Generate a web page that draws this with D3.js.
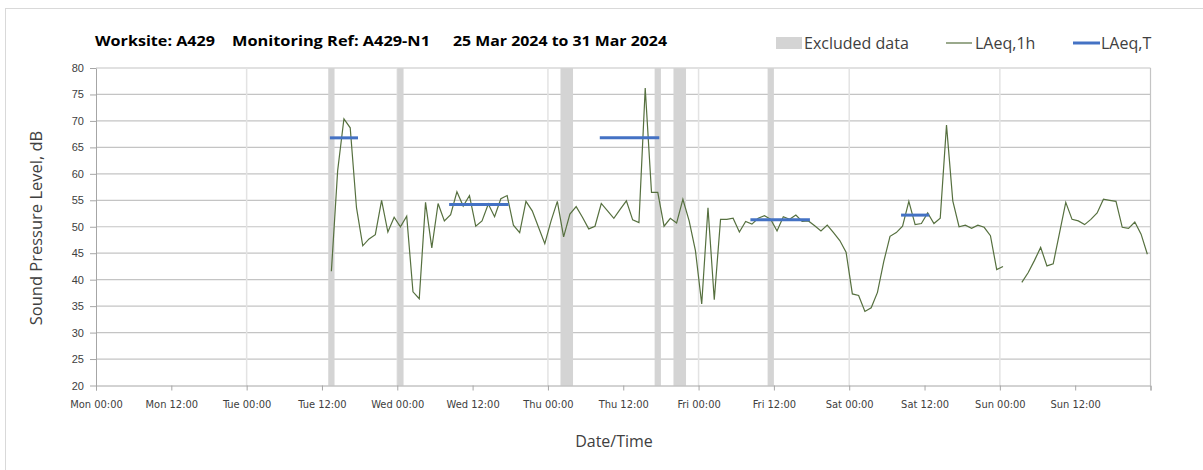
<!DOCTYPE html>
<html>
<head>
<meta charset="utf-8">
<script src="https://cdn.jsdelivr.net/npm/d3@7"></script>
<style>
  body { margin: 0; background: #fff; }
  svg { display: block; font-family: "Open Sans", sans-serif; }
</style>
</head>
<body>
<div id="chart"></div>
<script>
// LAeq,1h - hourly values, plotted at the middle of each hour (first = Tue 26 Mar 13:30)
const firstHour = "2024-03-26T13:30:00Z";
const laeq1h = [
  41.6, 60.6, 70.4, 68.7, 53.6, 46.4, 47.7, 48.5, 55.0, 49.0, 51.8, 50.0, 52.0, 37.7, 36.4, 54.6,
  46.0, 54.4, 51.1, 52.3, 56.6, 53.9, 55.9, 50.1, 51.1, 54.3, 51.9, 55.3, 55.9, 50.3, 48.9, 54.8,
  53.0, 49.9, 46.8, 51.1, 54.8,
  48.1, 52.4, 53.8, 51.8, 49.6, 50.1, 54.4, 53.0, 51.6, 53.3, 54.9, 51.3, 50.8, 76.2, 56.5, 56.5,
  50.1, 51.6, 50.7, 55.2, 51.1, 45.5, 35.4, 53.6, 36.2, 51.4, 51.4, 51.6, 49.0, 51.0, 50.5, 51.6,
  52.1, 51.4, 49.2,
  51.9, 51.4, 52.2, 51.0, 51.1, 50.2, 49.2, 50.3, 48.9, 47.4, 45.2, 37.3, 37.0, 34.0, 34.7, 37.6,
  43.4, 48.2, 48.9, 50.1, 54.8, 50.4, 50.6, 52.6, 50.6, 51.6, 69.2, 54.9, 50.0, 50.3, 49.7, 50.3,
  49.9, 48.3, 41.9, 42.5, null, null,
  39.5, 41.3, 43.6, 46.1, 42.6, 43.0, 48.8, 54.6, 51.4, 51.1, 50.4, 51.4, 52.6, 55.2, 55.0, 54.8,
  49.9, 49.7, 50.9, 48.6, 44.8
];

// LAeq,T - period levels
const laeqTStart = ["2024-03-26T13:30:00Z", "2024-03-27T08:30:00Z", "2024-03-28T08:30:00Z", "2024-03-29T08:30:00Z", "2024-03-30T08:30:00Z"];
const laeqTEnd   = ["2024-03-26T17:30:00Z", "2024-03-27T17:30:00Z", "2024-03-28T17:30:00Z", "2024-03-29T17:30:00Z", "2024-03-30T12:30:00Z"];
const laeqTValue = [66.8, 54.2, 66.8, 51.3, 52.2];

// Excluded data periods
const exclStart = ["2024-03-26T13:00:00Z", "2024-03-27T00:00:00Z", "2024-03-28T02:00:00Z", "2024-03-28T17:00:00Z", "2024-03-28T20:00:00Z", "2024-03-29T11:00:00Z"];
const exclEnd   = ["2024-03-26T14:00:00Z", "2024-03-27T01:00:00Z", "2024-03-28T04:00:00Z", "2024-03-28T18:00:00Z", "2024-03-28T22:00:00Z", "2024-03-29T12:00:00Z"];

const yTicks = [20, 25, 30, 35, 40, 45, 50, 55, 60, 65, 70, 75, 80];
const weekStart = "2024-03-25T00:00:00Z";
const weekEnd = "2024-04-01T00:00:00Z";

const titleParts = ["Worksite: A429", "Monitoring Ref: A429-N1", "25 Mar 2024 to 31 Mar 2024"];

function drawChart(selector) {
    const W = 1203, H = 470;
    const left = 96, right = 1150.5, top = 68, bottom = 385.5;

    const svg = d3.select(selector).append("svg")
        .attr("width", W).attr("height", H);

    // Rahmen (rechts/unten ausserhalb des Bildes)
    svg.append("rect")
        .attr("x", 5.5).attr("y", 8.5)
        .attr("width", 1210).attr("height", 475)
        .attr("fill", "none").attr("stroke", "#d9d9d9");

    const x = d3.scaleUtc()
        .domain([new Date(weekStart), new Date(weekEnd)])
        .range([left, right]);

    const y = d3.scaleLinear()
        .domain([20, 80])
        .range([bottom, top]);

    // Gitterlinien
    svg.append("g").selectAll("line")
        .data(yTicks.filter(d => d > 20))
        .join("line")
        .attr("x1", left).attr("x2", right)
        .attr("y1", d => y(d)).attr("y2", d => y(d))
        .attr("stroke", "#c4c4c4").attr("stroke-width", 1.2);

    const days = d3.utcDay.range(new Date(weekStart), new Date(weekEnd), 1).slice(1);
    svg.append("g").selectAll("line")
        .data(days)
        .join("line")
        .attr("x1", d => x(d)).attr("x2", d => x(d))
        .attr("y1", top).attr("y2", bottom)
        .attr("stroke", "#e3e3e3").attr("stroke-width", 1.5);

    svg.append("line")
        .attr("x1", right).attr("x2", right)
        .attr("y1", top).attr("y2", bottom)
        .attr("stroke", "#c4c4c4").attr("stroke-width", 1.2);

    // Ausgeschlossene Daten
    svg.append("g").selectAll("rect")
        .data(exclStart.map((s, i) => ({s: new Date(s), e: new Date(exclEnd[i])})))
        .join("rect")
        .attr("x", d => x(d.s))
        .attr("width", d => x(d.e) - x(d.s))
        .attr("y", top)
        .attr("height", bottom - top)
        .attr("fill", "#d4d4d4");

    // Achsen
    const xAxis = svg.append("g")
        .attr("transform", `translate(0,${bottom})`)
        .call(d3.axisBottom(x)
            .ticks(d3.utcHour.every(12))
            .tickSizeOuter(0)
            .tickSize(5)
            .tickFormat(d => +d === +new Date(weekEnd) ? "" : d3.utcFormat("%a %H:%M")(d)));
    xAxis.select(".domain").attr("stroke", "#a6a6a6");
    xAxis.selectAll(".tick line").attr("stroke", "#a6a6a6");
    xAxis.selectAll("text")
        .attr("dy", "1.35em")
        .attr("fill", "#404040")
        .attr("font-size", "11px")
        .attr("font-family", "'DejaVu Sans Condensed', 'Open Sans', sans-serif");

    const yAxis = svg.append("g")
        .attr("transform", `translate(${left},0)`)
        .call(d3.axisLeft(y).tickValues(yTicks).tickSize(6).tickSizeOuter(0));
    yAxis.select(".domain").attr("stroke", "#a6a6a6");
    yAxis.selectAll(".tick line").attr("stroke", "#a6a6a6");
    yAxis.selectAll("text")
        .attr("x", -12)
        .attr("fill", "#404040")
        .attr("font-size", "11px");

    // LAeq,1h Linie
    const t0 = new Date(firstHour);
    const pts = laeq1h.map((v, i) => ({t: d3.utcHour.offset(t0, i), v: v}));
    svg.append("path")
        .datum(pts)
        .attr("fill", "none")
        .attr("stroke", "#56703f")
        .attr("stroke-width", 1.2)
        .attr("d", d3.line()
            .defined(d => d.v !== null)
            .x(d => x(d.t))
            .y(d => y(d.v)));

    // LAeq,T
    svg.append("g").selectAll("line")
        .data(laeqTValue.map((v, i) => ({s: new Date(laeqTStart[i]), e: new Date(laeqTEnd[i]), v: v})))
        .join("line")
        .attr("x1", d => x(d.s)).attr("x2", d => x(d.e))
        .attr("y1", d => y(d.v)).attr("y2", d => y(d.v))
        .attr("stroke", "#4472c4")
        .attr("stroke-width", 3)
        .attr("stroke-linecap", "square");

    // Titel
    const titleX = [95, 232, 453];
    const titleW = [120, 198, 214];
    svg.append("g").selectAll("text")
        .data(titleParts)
        .join("text")
        .attr("x", (d, i) => titleX[i])
        .attr("y", 46)
        .attr("textLength", (d, i) => titleW[i])
        .attr("lengthAdjust", "spacingAndGlyphs")
        .attr("font-size", "15px")
        .attr("font-weight", "bold")
        .attr("fill", "#000")
        .text(d => d);

    // Achsentitel
    svg.append("text")
        .attr("transform", "translate(42,228) rotate(-90)")
        .attr("text-anchor", "middle")
        .attr("font-size", "16.5px")
        .attr("fill", "#404040")
        .text("Sound Pressure Level, dB");

    svg.append("text")
        .attr("x", 614).attr("y", 447)
        .attr("text-anchor", "middle")
        .attr("font-size", "16px")
        .attr("fill", "#404040")
        .text("Date/Time");

    // Legende
    const lg = svg.append("g");
    lg.append("rect").attr("x", 776).attr("y", 37).attr("width", 26).attr("height", 12).attr("fill", "#d4d4d4");
    lg.append("text").attr("x", 804).attr("y", 49).attr("font-size", "16px").attr("fill", "#404040").text("Excluded data");
    lg.append("line").attr("x1", 946).attr("x2", 972).attr("y1", 43).attr("y2", 43).attr("stroke", "#56703f").attr("stroke-width", 1.2);
    lg.append("text").attr("x", 975).attr("y", 49).attr("font-size", "16px").attr("fill", "#404040").text("LAeq,1h");
    lg.append("line").attr("x1", 1073).attr("x2", 1100).attr("y1", 43).attr("y2", 43).attr("stroke", "#4472c4").attr("stroke-width", 3);
    lg.append("text").attr("x", 1101).attr("y", 49).attr("font-size", "16px").attr("fill", "#404040").text("LAeq,T");
}

drawChart("#chart");
</script>
</body>
</html>
